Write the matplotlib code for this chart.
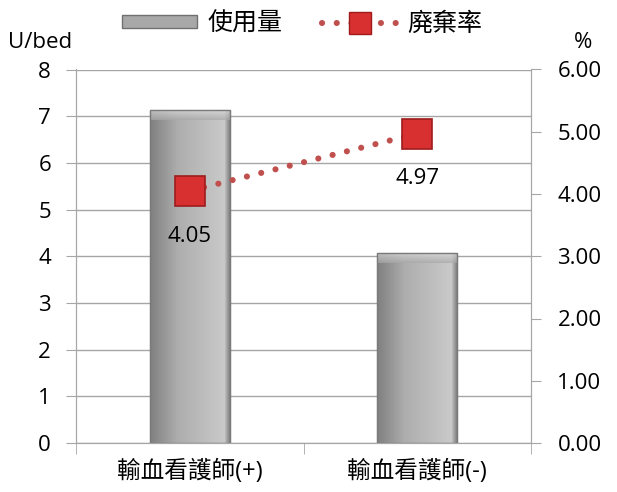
import numpy as np
import matplotlib
matplotlib.use('Agg')
import matplotlib.pyplot as plt
from matplotlib.patches import Rectangle
from matplotlib.lines import Line2D

plt.rcParams['font.family'] = ['Open Sans', 'Noto Sans CJK TC', 'DejaVu Sans']

categories = ['輸血看護師(+)', '輸血看護師(-)']
usage = [7.13, 4.07]          # U/bed
waste_rate = [4.05, 4.97]     # %
left_ticks = [0, 1, 2, 3, 4, 5, 6, 7, 8]
right_ticks = [0, 1, 2, 3, 4, 5, 6]

fig = plt.figure(figsize=(6.17, 4.92), dpi=100)
ax = fig.add_axes([76 / 617, 49 / 492, 455 / 617, 373.5 / 492])
x = np.arange(len(categories))

grid_col = '#a6a6a6'
ax.set_xlim(-0.5, 1.5)
ax.set_ylim(0, 8)
ax.set_yticks(left_ticks)
ax.yaxis.grid(True, color=grid_col, lw=1)
ax.set_axisbelow(True)
for s in ['left', 'right', 'bottom']:
    ax.spines[s].set_color(grid_col)
ax.spines['top'].set_visible(False)
ax.tick_params(axis='y', length=7, color=grid_col, labelsize=16, pad=11)
ax.tick_params(axis='x', length=0, pad=12)
ax.set_xticks(x)
ax.set_xticklabels(categories, fontsize=17)
ax.set_xticks([-0.5, 0.5, 1.5], minor=True)
ax.tick_params(axis='x', which='minor', length=8, color=grid_col, direction='out')

# gray gradient bars with a bevel on top
bars = ax.bar(x, usage, width=0.35, color='#a0a0a0', edgecolor='#808080', lw=0.8, zorder=2)
grad = np.concatenate([np.linspace(0.5, 0.68, 90), np.linspace(0.68, 0.79, 150),
                       np.linspace(0.74, 0.5, 16)]).reshape(1, -1)
bevel = np.linspace(0.66, 0.88, 64).reshape(-1, 1)
for b in bars:
    x0, y0 = b.get_x(), b.get_y()
    w, h = b.get_width(), b.get_height()
    im = ax.imshow(grad, cmap='gray', vmin=0, vmax=1, aspect='auto',
                   extent=[x0, x0 + w, y0, y0 + h], zorder=2.5)
    im.set_clip_path(b)
    bv = ax.imshow(bevel, cmap='gray', vmin=0, vmax=1, aspect='auto', alpha=0.7,
                   extent=[x0, x0 + w, y0 + h - 0.22, y0 + h], zorder=2.6, origin='lower')
    bv.set_clip_path(b)
    ax.add_patch(Rectangle((x0, y0), w, h, facecolor='none', edgecolor='#7a7a7a',
                           lw=1, zorder=2.7))
ax.set_xlim(-0.5, 1.5)
ax.set_ylim(0, 8)

ax2 = ax.twinx()
ax2.set_ylim(0, 6)
ax2.set_yticks(right_ticks)
ax2.set_yticklabels([f'{v:.2f}' for v in right_ticks])
ax2.tick_params(axis='y', length=7, color=grid_col, labelsize=16, pad=12)
for s in ['left', 'right', 'bottom']:
    ax2.spines[s].set_color(grid_col)
ax2.spines['top'].set_visible(False)

dots = (0, (0.01, 2.4))
ax2.plot(x, waste_rate, color='#c0504d', lw=4.4, linestyle=dots,
         dash_capstyle='round', zorder=3)
ax2.plot(x, waste_rate, linestyle='none', marker='s', markersize=22,
         markerfacecolor='#d83030', markeredgecolor='#9e1c1c', markeredgewidth=1.2, zorder=4)
for xi, v in zip(x, waste_rate):
    ax2.annotate(f'{v:.2f}', (xi, v), xytext=(0, -25), textcoords='offset points',
                 ha='center', va='top', fontsize=16, zorder=5)

fig.text(8 / 617, 1 - 42 / 492, 'U/bed', fontsize=16, ha='left', va='center')
fig.text(583 / 617, 1 - 42 / 492, '%', fontsize=16, ha='center', va='center')

h1 = Rectangle((0, 0), 1, 1, facecolor='#a8a8a8', edgecolor='#707070')
h2 = Line2D([], [], color='#c0504d', lw=4.4, linestyle=dots, dash_capstyle='round',
            marker='s', markersize=16, markerfacecolor='#d83030', markeredgecolor='#9e1c1c')
fig.legend([h1, h2], ['使用量', '廃棄率'], loc='center', bbox_to_anchor=(302 / 617, 1 - 24 / 492),
           ncol=2, frameon=False, fontsize=18, handlelength=3.0, handleheight=0.45,
           columnspacing=1.6, handletextpad=0.4)

fig.savefig('out.png', dpi=100)
